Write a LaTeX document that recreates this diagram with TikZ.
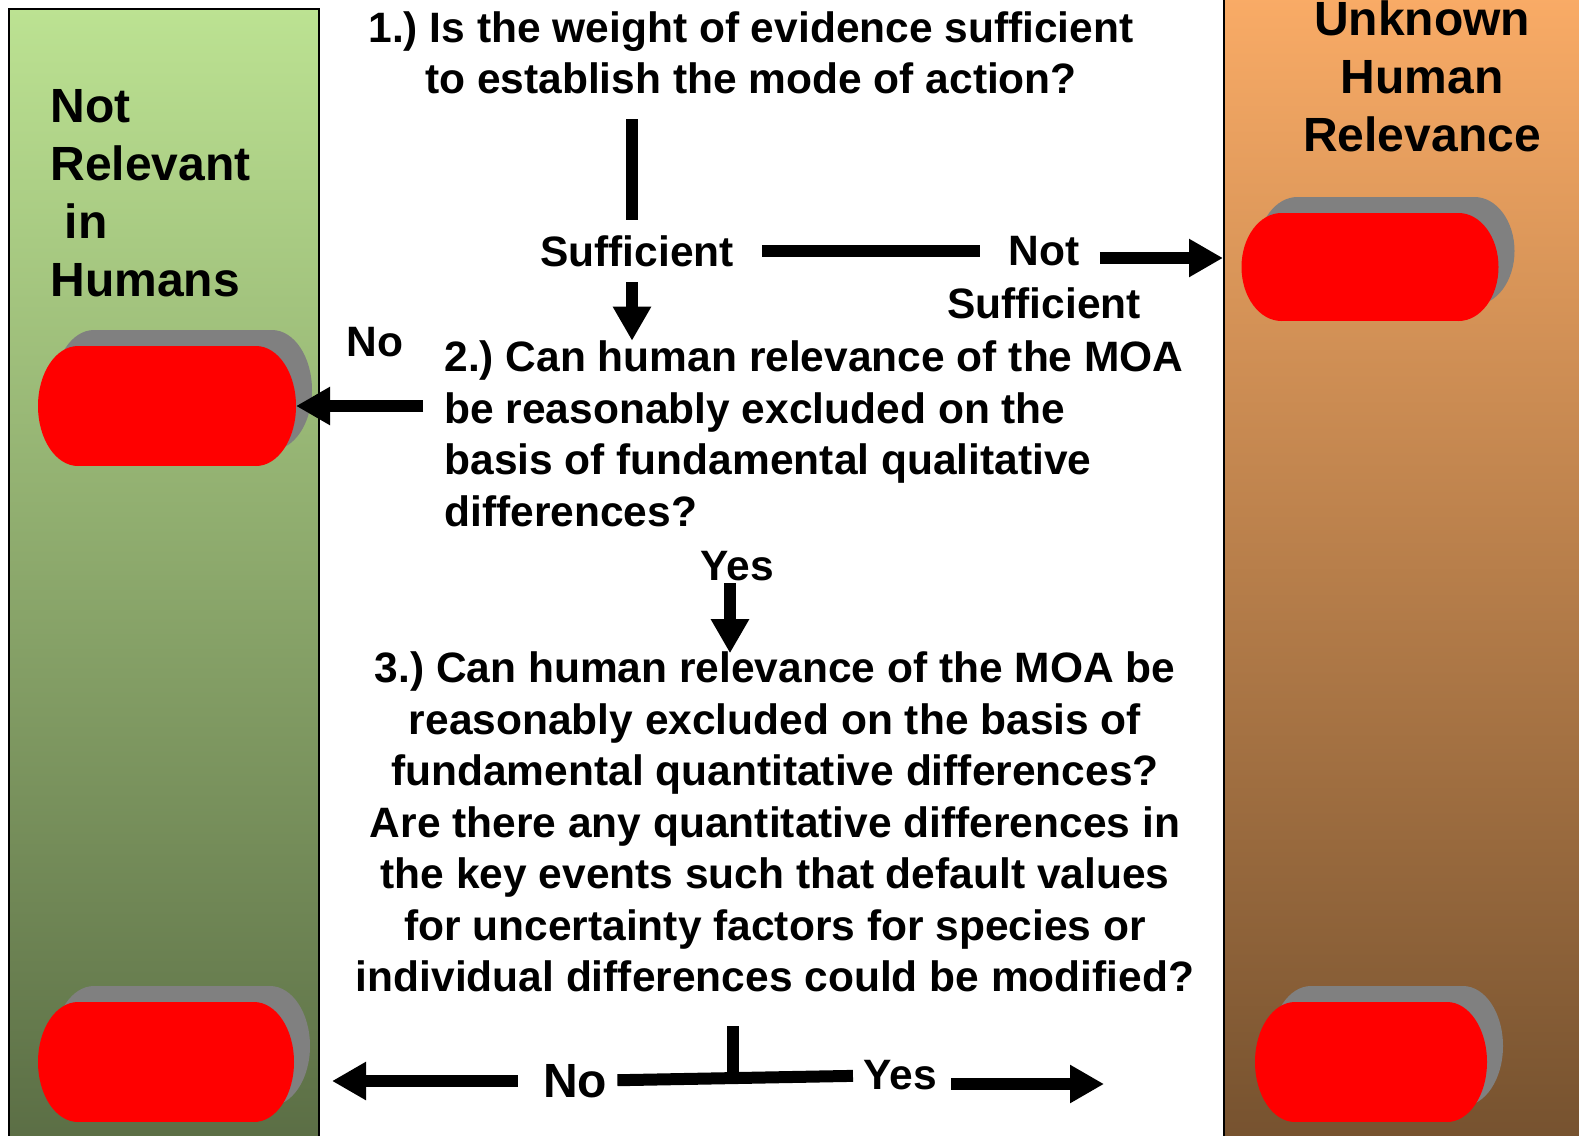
\documentclass[tikz,border=0pt]{standalone}
\usepackage{fontspec}
\setmainfont{Liberation Sans}
\usetikzlibrary{arrows.meta}

\definecolor{greentop}{HTML}{BCE292}
\definecolor{greenbot}{HTML}{5B6E45}
\definecolor{orangetop}{HTML}{F9AB66}
\definecolor{orangebot}{HTML}{76522F}
\definecolor{pillgray}{HTML}{808080}

\tikzset{
  qtext/.style={font=\fontsize{21.25}{25.75}\selectfont\bfseries\frenchspacing,inner sep=0pt},
  coltext/.style={font=\fontsize{24}{29}\selectfont\bfseries,inner sep=0pt},
  lbl/.style={font=\fontsize{21.25}{25.75}\selectfont\bfseries,inner xsep=14pt,inner ysep=7.5pt},
  blbl/.style={lbl,inner xsep=5pt,inner ysep=1pt},
  bar/.style={line width=6pt},
  arr/.style={line width=6pt,-{Triangle[length=17pt,width=18pt]}},
  pillbox/.style={inner sep=0pt,outer sep=0pt},
  column/.style={draw,line width=1pt,inner sep=0pt,anchor=north west},
}

% red pill with grey shadow: name, x, y, width, height
\newcommand\redpill[5]{%
  \node[pillbox,minimum width=#4*0.5pt,minimum height=#5*0.5pt] (#1) at (#2,#3) {};
  \foreach \dx/\dy/\pc in {16/-16/pillgray,0/0/red}{
    \fill[\pc] ([shift={(\dx+40,\dy)}]#1.west) ellipse [x radius=20pt,y radius=#5*0.25pt];
    \fill[\pc] ([shift={(\dx-40,\dy)}]#1.east) ellipse [x radius=20pt,y radius=#5*0.25pt];
    \fill[\pc] ([shift={(\dx+40,\dy)}]#1.north west) rectangle ([shift={(\dx-40,\dy)}]#1.south east);
  }%
}

\begin{document}
\begin{tikzpicture}[x=0.5pt,y=-0.5pt]
\useasboundingbox (0,0) rectangle (1579,1135);
\node[column,top color=greentop,bottom color=greenbot,minimum width=155pt,minimum height=566pt] (nrh) at (8,8) {};
\node[column,top color=orangetop,bottom color=orangebot,minimum width=185pt,minimum height=572.5pt] (unk) at (1223,-5) {};
\node[coltext,align=left,anchor=west] (nrhtext) at (50,193) {Not\\Relevant\\\hspace*{0.3em}in\\Humans};
\node[coltext,align=center] (unktext) at (1422,76) {Unknown\\Human\\Relevance};

\redpill{pillA}{167}{406}{258}{120}
\redpill{pillB}{166}{1062}{256}{120}
\redpill{pillC}{1370}{267}{257}{108}
\redpill{pillD}{1371}{1062}{232}{120}

\node[qtext,align=center] (q1) at (751,53) {1.) Is the weight of evidence sufficient\\to establish the mode of action?};
\node[qtext,align=left,anchor=west] (q2) at (444,434) {2.) Can human relevance of the MOA\\be reasonably excluded on the\\basis of fundamental qualitative\\differences?};
\node[qtext,align=center] (q3) at (775,822) {3.) Can human relevance of the MOA be\\reasonably excluded on the basis of\\fundamental quantitative differences?\\Are there any quantitative differences in\\the key events such that default values\\for uncertainty factors for species or\\individual differences could be modified?};

\node[lbl] (suff) at (637,251) {Sufficient};
\node[lbl] (nots) at (1044,251) {Not};
\node[lbl] (sufs) at (1044,303) {Sufficient};
\node[lbl,inner sep=0pt] (nolbl) at (375,342) {No};
\node[blbl] (yes) at (737,566) {Yes};
\node[blbl,font=\fontsize{24}{29}\selectfont\bfseries] (no2) at (575,1081) {No};
\node[blbl] (yes2) at (900,1075) {Yes};

\draw[bar] ([xshift=-2.5pt]suff.north) -- ++(0,-101);
\draw[bar] (suff) -- (nots);
\draw[arr] ([shift={(-4pt,-3.5pt)}]nots.east) -- ([yshift=-3.5pt]nots.east -| unk.west);
\draw[arr] ([xshift=-2.5pt]suff.south) -- ([xshift=-2.5pt]suff.south |- q2.north);
\draw[arr] ([xshift=-10.5pt]q2.west |- pillA.east) -- (pillA.east);
\draw[arr] ([xshift=-3.5pt]yes.south) -- ++(0,70);

\coordinate (tee) at (733,1026);
\draw[bar] (tee) -- ++(0,55);
\draw[bar] (no2) -- (yes2);
\draw[arr] ([xshift=-7.5pt]no2.west) -- ([xshift=6pt]nrh.east |- no2.west);
\draw[arr] ([shift={(2pt,-4.5pt)}]yes2.east) -- ++(153,0);
\end{tikzpicture}
\end{document}
